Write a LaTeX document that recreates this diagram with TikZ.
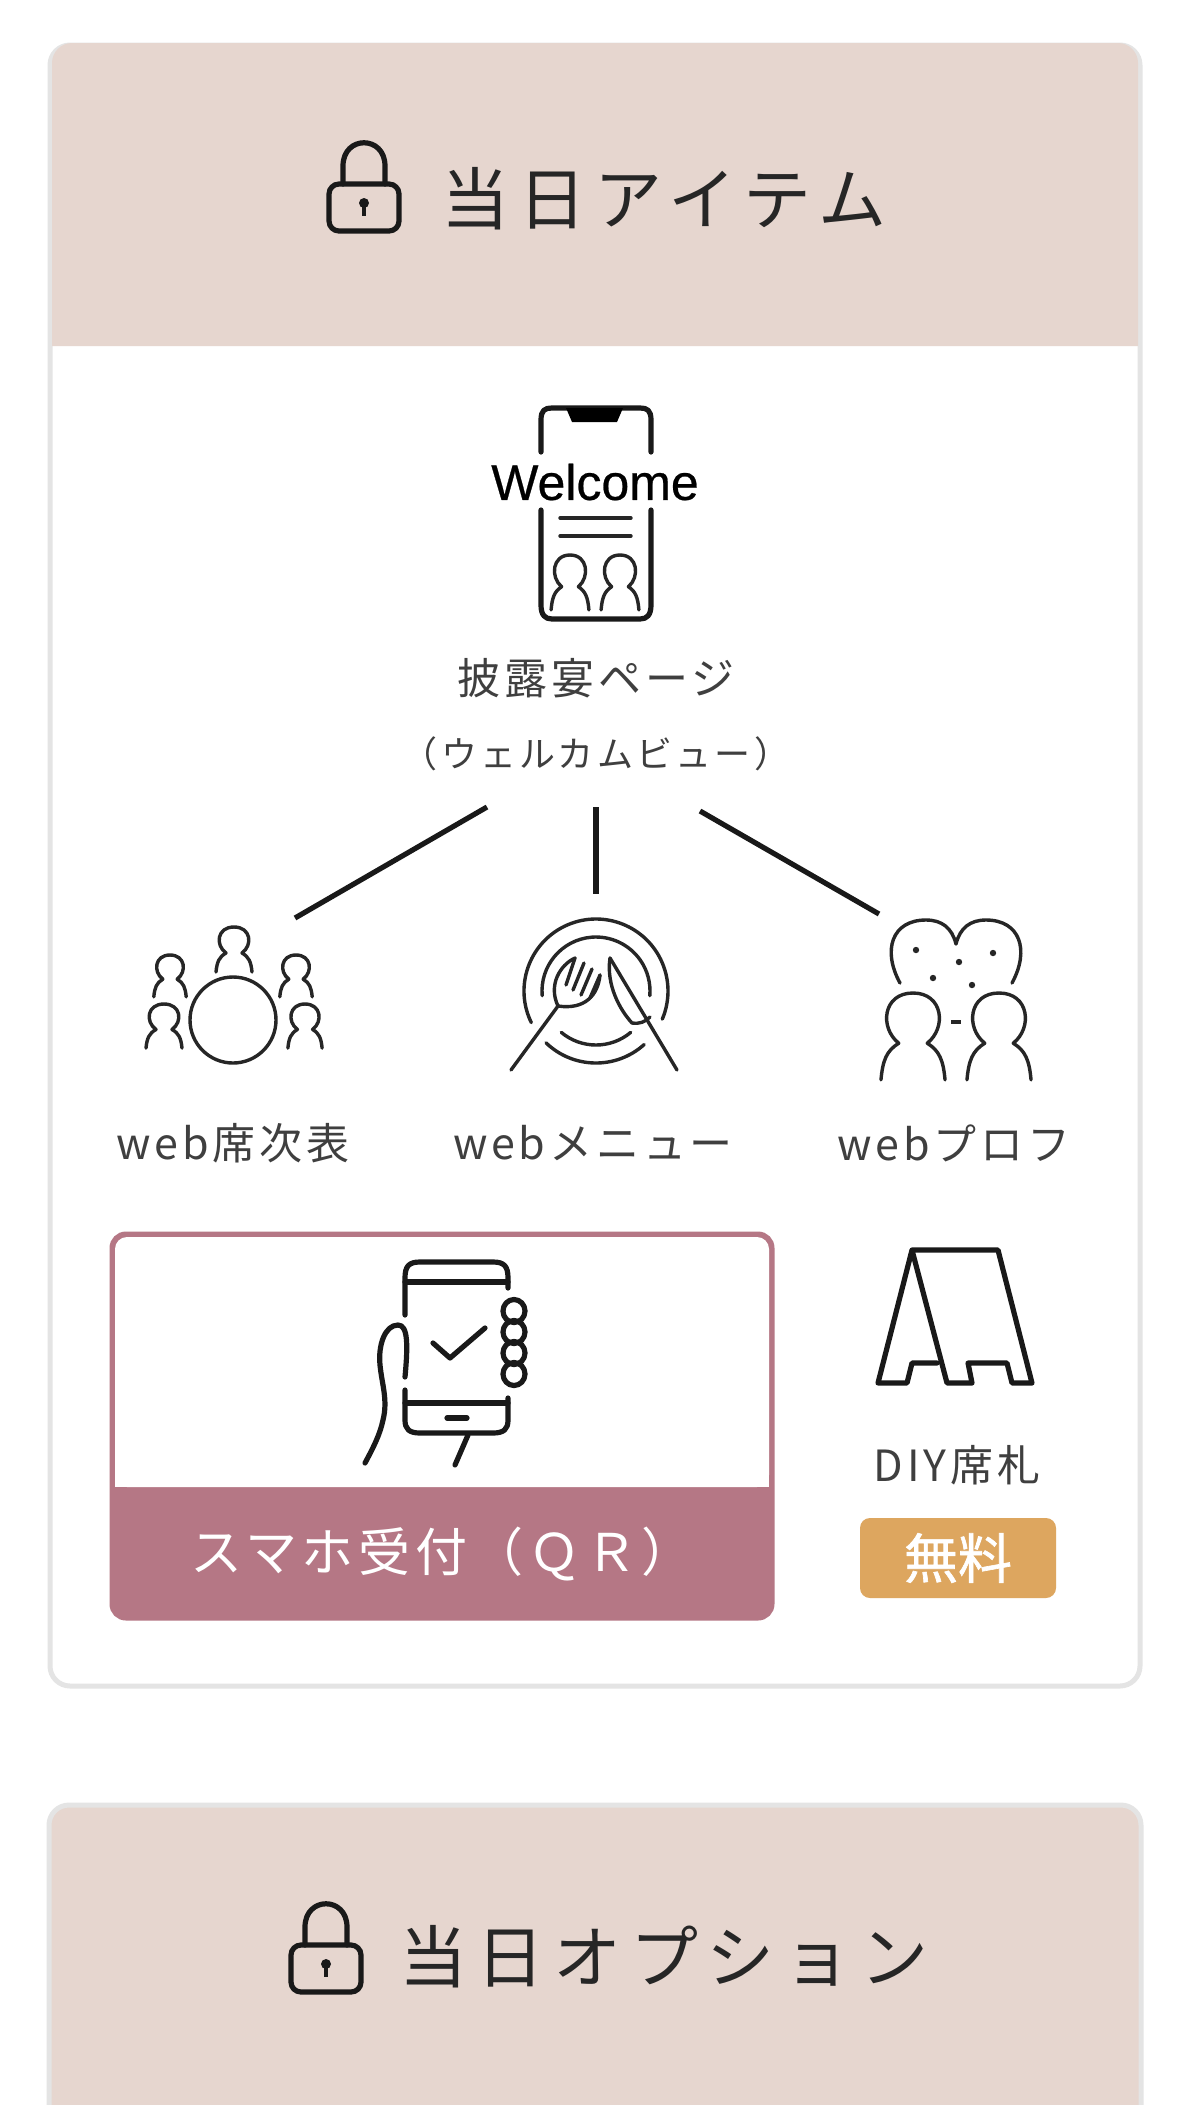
\documentclass[tikz,border=0pt]{standalone}
\usepackage{fontspec}
\setmainfont{Liberation Sans}
\newfontfamily\jpfont{Noto Sans CJK JP}
\newfontfamily\jptitle[LetterSpace=13]{Noto Sans CJK JP}
\newfontfamily\jplabel[LetterSpace=9]{Noto Sans CJK JP}
\newfontfamily\jpheavy[FakeBold=1.2]{Noto Sans CJK JP}
\newfontfamily\welcomefont[FakeBold=0.5]{Liberation Sans}
\definecolor{cardhead}{HTML}{E6D6CF}
\definecolor{cardedge}{HTML}{E4E4E4}
\definecolor{qrrose}{HTML}{B57785}
\definecolor{freegold}{HTML}{DDA65F}
\definecolor{inktext}{HTML}{3F3F3F}
\tikzset{
  iconline/.style={draw=black!90,line width=2.6pt,line cap=round,line join=round},
  thinicon/.style={draw=black!85,line width=1.7pt,line cap=round,line join=round},
  linkline/.style={draw=black!90,line width=2.6pt},
  titletext/.style={text=black!85,font=\jptitle\fontsize{34}{40}\selectfont},
  itemtext/.style={text=inktext,font=\jplabel\fontsize{21.5}{26}\selectfont},
  smalltext/.style={text=inktext,font=\jplabel\fontsize{18}{22}\selectfont},
  whitetext/.style={text=white,font=\jplabel\fontsize{26}{30}\selectfont},
  person/.pic={
    \draw[thinicon] (-18,45) .. controls (-17,35) and (-15,30) .. (-8,26)
      .. controls (-19,18) and (-17,0) .. (0,0)
      .. controls (17,0) and (19,18) .. (8,26)
      .. controls (15,30) and (17,35) .. (18,45);
  },
  padlock/.pic={
    \draw[iconline,rounded corners=5pt] (-35,43) -- (35,43) -- (35,90) -- (-35,90) -- cycle;
    \draw[iconline] (-21,43) -- (-21,25) .. controls (-21,-6) and (21,-6) .. (21,25) -- (21,43);
    \fill[black!90] (0,62) circle (5);
    \draw[black!90,line width=2pt] (0,62) -- (0,75);
  },
}
\begin{document}
\begin{tikzpicture}[x=0.5pt,y=-0.5pt]
\useasboundingbox (0,0) rectangle (1200,2105);
\clip (0,0) rectangle (1200,2105);
% first card
\draw[cardedge,fill=white,line width=2.5pt,rounded corners=10pt] (50,45) rectangle (1140,1686);
\fill[cardhead] (52,346) {[rounded corners=10pt] -- (52,43) -- (1138,43)} -- (1138,346) -- cycle;
\pic at (364,141) {padlock};
\node[titletext] (itemtitle) at (664,199) {当日アイテム};
% welcome page
\draw[iconline] (541,452) -- (541,420) .. controls (541,410) and (545,408) .. (552,408) -- (640,408) .. controls (647,408) and (651,410) .. (651,420) -- (651,452);
\draw[iconline] (541,510) -- (541,605) .. controls (541,615) and (545,619) .. (552,619) -- (640,619) .. controls (647,619) and (651,615) .. (651,605) -- (651,510);
\fill[black] (566,408) -- (623,408) -- (617,422) -- (572,422) -- cycle;
\node[font=\welcomefont\fontsize{25}{30}\selectfont,text=black,inner sep=0pt] (welcome) at (595,482) {Welcome};
\draw[thinicon] (560,518) -- (631,518);
\draw[thinicon] (560,536) -- (631,536);
\pic[xscale=1.05,yscale=1.22] at (570,555) {person};
\pic[xscale=1.05,yscale=1.22] at (620,555) {person};
\node[itemtext] (pagetext) at (596,678) {披露宴ページ};
\node[smalltext] (viewtext) at (596,754) {（ウェルカムビュー）};
% links
\coordinate (linkleft) at (487,807);
\coordinate (linkmid) at (596,807);
\coordinate (linkright) at (700,811);
\coordinate (seatend) at (295,918);
\coordinate (menuend) at (596,894);
\coordinate (profend) at (879,914);
\draw[linkline] (linkleft) -- (seatend);
\draw[linkline] (linkmid) -- (menuend);
\draw[linkline] (linkright) -- (profend);
% seating
\draw[thinicon] (233,1020) circle (43);
\pic at (234,927) {person};
\pic[xscale=0.9,yscale=0.93] at (170,955) {person};
\pic[xscale=0.9,yscale=0.93] at (296,955) {person};
\pic[yscale=0.98] at (164,1004) {person};
\pic[xscale=0.95,yscale=0.98] at (305,1004) {person};
\node[itemtext] (seattext) at (233,1143) {web席次表};
% menu
\draw[thinicon] (596,991) ++(154:72) arc[start angle=154,end angle=383,radius=72];
\draw[thinicon] (596,991) ++(175:54) arc[start angle=175,end angle=365,radius=54];
\draw[thinicon] (596,991) ++(50:54) arc[start angle=50,end angle=130,radius=54];
\draw[thinicon] (596,991) ++(48:72) arc[start angle=48,end angle=134,radius=72];
\draw[thinicon] (511,1070) -- (558,1006) .. controls (548,985) and (560,965) .. (575,958);
\draw[thinicon] (575,958) -- (566,985);
\draw[thinicon] (584,963) -- (573,990);
\draw[thinicon] (592,969) -- (581,995);
\draw[thinicon] (600,975) -- (590,998);
\draw[thinicon] (600,975) .. controls (598,995) and (585,1010) .. (558,1006);
\draw[thinicon] (610,958) -- (677,1070);
\draw[thinicon] (610,958) .. controls (606,985) and (620,1010) .. (632,1023) .. controls (640,1024) and (645,1022) .. (650,1017);
\node[itemtext] (menutext) at (593,1143) {webメニュー};
% profile
\draw[thinicon] (900,983) .. controls (882,950) and (892,920) .. (926,920) .. controls (942,920) and (952,928) .. (956,944) .. controls (960,928) and (970,920) .. (986,920) .. controls (1020,920) and (1030,950) .. (1012,983);
\foreach \hx/\hy in {916/950,959/962,993/953,933/978,972/985}
  \fill[black!85] (\hx,\hy) circle (3.2);
\pic[xscale=1.78,yscale=1.93] at (913,993) {person};
\pic[xscale=1.78,yscale=1.93] at (999,993) {person};
\draw[black!85,line width=2pt] (951,1022) -- (961,1022);
\node[itemtext] (proftext) at (954,1143) {webプロフ};
% qr box
\draw[qrrose,fill=qrrose,line width=2.5pt,rounded corners=7pt] (112,1234) rectangle (772,1618);
\fill[white,rounded corners=6pt] (115,1237) -- (769,1237) -- (769,1487) -- (115,1487) -- cycle;
\fill[white] (115,1450) rectangle (769,1487);
\draw[iconline] (405,1315) -- (405,1278) .. controls (405,1266) and (409,1262) .. (420,1262) -- (493,1262) .. controls (504,1262) and (508,1266) .. (508,1278) -- (508,1288);
\draw[iconline] (405,1282) -- (508,1282);
\draw[iconline] (405,1390) -- (405,1420) .. controls (405,1429) and (409,1433) .. (420,1433) -- (493,1433) .. controls (504,1433) and (508,1429) .. (508,1420) -- (508,1398);
\draw[iconline] (405,1403) -- (508,1403);
\draw[iconline] (447,1418) -- (467,1418);
\draw[iconline] (433,1343) -- (450,1358) -- (485,1328);
\foreach \fy in {1311,1332,1353,1374}
  \draw[iconline] (514,\fy) ellipse (11 and 11.5);
\draw[iconline] (405,1377) .. controls (408,1345) and (408,1325) .. (398,1325) .. controls (385,1325) and (378,1345) .. (380,1365) .. controls (382,1385) and (388,1400) .. (383,1420) .. controls (380,1435) and (372,1450) .. (365,1463);
\draw[iconline] (468,1435) -- (455,1465);
\node[whitetext] (qrtext) at (442,1554) {スマホ受付（ＱＲ）};
% diy card
\draw[iconline] (912,1250) -- (998,1250) -- (1032,1383) -- (1012,1383) -- (1007,1363) -- (968,1363) -- (972,1383) -- (947,1383) -- (912,1250) -- (878,1383) -- (907,1383) -- (912,1363) -- (937,1363);
\node[itemtext] (diytext) at (957,1465) {DIY席札};
\node[fill=freegold,rounded corners=5pt,minimum width=98pt,minimum height=40pt,inner sep=0pt,whitetext,font=\jpheavy\fontsize{27}{30}\selectfont] (freetag) at (958,1558) {無料};
% second card
\fill[cardhead,rounded corners=10pt] (50,1806) -- (1140,1806) -- (1140,2160) -- (50,2160) -- cycle;
\draw[cardedge,line width=2.5pt,rounded corners=10pt] (49,2160) -- (49,1805) -- (1141,1805) -- (1141,2160);
\pic at (326,1902) {padlock};
\node[titletext] (optiontitle) at (664,1957) {当日オプション};
\end{tikzpicture}
\end{document}
